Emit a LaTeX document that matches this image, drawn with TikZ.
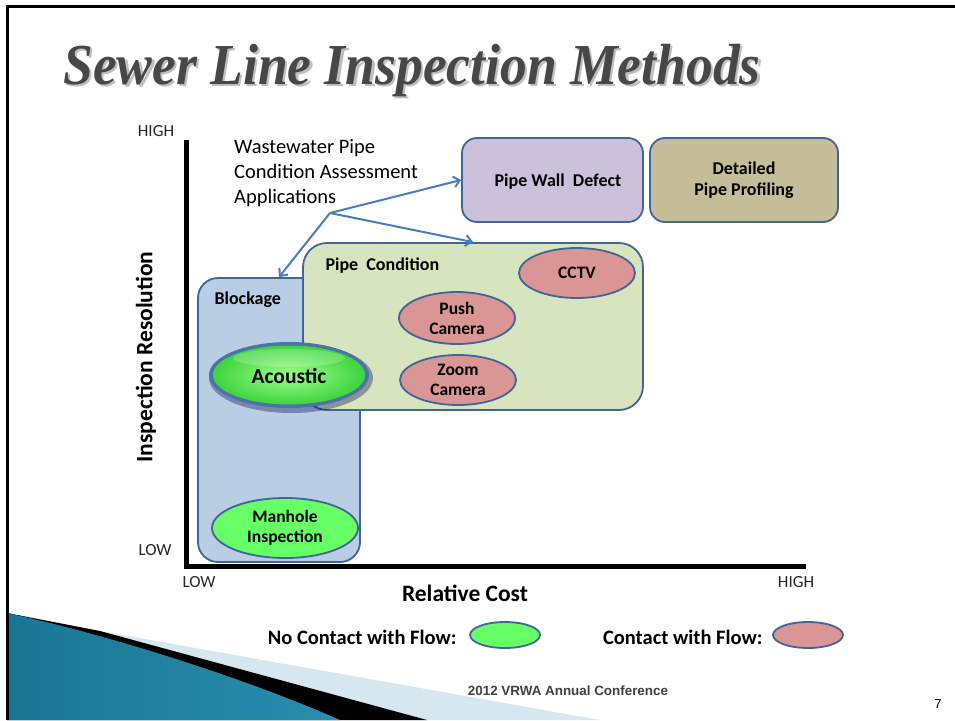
\documentclass[tikz,border=0pt]{standalone}
\usepackage{fontspec}
\setmainfont{Carlito}
\newfontfamily\titlefont{Liberation Serif}
\newfontfamily\footfont{Liberation Sans}
\usetikzlibrary{shapes.geometric,arrows.meta,shadings}
\definecolor{edgeblue}{HTML}{41649A}
\definecolor{arrowblue}{HTML}{4A7EBB}
\definecolor{blockfill}{HTML}{B9CDE5}
\definecolor{condfill}{HTML}{D7E4BD}
\definecolor{wallfill}{HTML}{CCC1DA}
\definecolor{detailfill}{HTML}{C4BD97}
\definecolor{pinkfill}{HTML}{D99694}
\definecolor{greenfill}{HTML}{66FF66}
\definecolor{greenlight}{HTML}{9CFF8C}
\definecolor{greenedge}{HTML}{3ED43E}
\definecolor{acousticrim}{HTML}{4A74A8}
\definecolor{tealA}{HTML}{1A7593}
\definecolor{tealB}{HTML}{55B6D6}
\definecolor{tealC}{HTML}{2A8EAF}
\definecolor{paleblue}{HTML}{D5E8F0}
\tikzset{
  area/.style={draw=edgeblue, line width=1.8pt, inner sep=0pt},
  oval/.style={ellipse, draw=edgeblue, line width=1.8pt, inner sep=0pt, align=center,
    font=\fontsize{17.5}{20}\selectfont\bfseries},
  boxtext/.style={font=\fontsize{18}{21}\selectfont\bfseries, align=center},
  ticktext/.style={font=\fontsize{17}{19}\selectfont, text=black!85},
  axistitle/.style={font=\fontsize{23.5}{26}\selectfont\bfseries},
  legendtext/.style={font=\fontsize{20.5}{23}\selectfont\bfseries},
  link/.style={draw=arrowblue, line width=2pt, -{Straight Barb[length=6pt,width=11pt]}},
}
\begin{document}
\begin{tikzpicture}[x=1pt,y=-1pt]
\useasboundingbox (0,0) rectangle (955,720);
\fill[white] (0,0) rectangle (955,720);
% bottom-left decoration
\fill[paleblue] (7,613) -- (100,631) -- (600,720) -- (7,720) -- cycle;
\fill[black] (7,613) -- (100,631) -- (427,720) -- (7,720) -- cycle;
\shade[left color=tealA, middle color=tealB, right color=tealC] (7,613) .. controls (110,635) and (250,680) .. (340,720) -- (7,720) -- cycle;
% slide frame
\draw[line width=3pt] (7,720) -- (7,6) -- (955,6);
% title (with its shadow)
\node[font=\titlefont\fontsize{58}{60}\selectfont\bfseries\itshape, xscale=0.923, anchor=base, inner sep=0pt] (title) at (412,84)
  {\rlap{\kern2.5pt\raisebox{-2.5pt}{\color{black!25}Sewer Line Inspection Methods}}\color{black!72}Sewer Line Inspection Methods};
% axes
\coordinate (origin) at (186,566);
\coordinate (ytop) at (186,140);
\coordinate (xend) at (806,566);
% areas
\node[area, rounded corners=20pt, fill=blockfill, minimum width=162pt, minimum height=284pt] (blockage) at (279,420) {};
\node[area, rounded corners=24pt, fill=condfill, minimum width=340pt, minimum height=167pt] (cond) at (473,326.5) {};
\node[area, rounded corners=15pt, fill=wallfill, minimum width=181pt, minimum height=84pt] (wall) at (552.5,180) {};
\node[area, rounded corners=15pt, fill=detailfill, minimum width=188pt, minimum height=84pt, boxtext] (detail) at (744,180) {Detailed\\Pipe Profiling};
\node[boxtext] (walltext) at (558,182) {Pipe Wall~~Defect};
\node[boxtext, anchor=west] (blocktext) at (211,300) {Blockage};
\node[boxtext, anchor=west] (condtext) at (322,266) {Pipe~~Condition};
\draw[line width=5pt] (ytop) -- (186,568.5);
\draw[line width=5pt] (183.5,566) -- (xend);
% ovals
\node[oval, fill=pinkfill, minimum width=116pt, minimum height=50pt] (cctv) at (577,273) {CCTV};
\node[oval, fill=pinkfill, minimum width=116pt, minimum height=52pt] (push) at (457,318) {Push\\Camera};
\node[oval, fill=pinkfill, minimum width=116pt, minimum height=50pt] (zoom) at (458,380) {Zoom\\Camera};
\node[oval, fill=greenfill, minimum width=146pt, minimum height=60pt] (manhole) at (285,528) {Manhole\\Inspection};
% acoustic with glow
\fill[black!70!blue, opacity=0.35] (291,378) ellipse [x radius=82pt, y radius=35pt];
\fill[acousticrim] (289,375) ellipse [x radius=80pt, y radius=33pt];
\shade[inner color=greenlight, outer color=greenedge] (289,375) ellipse [x radius=76pt, y radius=29.5pt];
\fill[white, opacity=0.2] (289,358) ellipse [x radius=56pt, y radius=9pt];
\node[font=\fontsize{21.5}{24}\selectfont\bfseries, inner sep=0pt] (acoustic) at (289,376) {Acoustic};
% applications label and arrows
\node[anchor=north west, align=left, font=\fontsize{20.5}{25}\selectfont, inner sep=0pt] (apps) at (234,139) {Wastewater Pipe\\Condition Assessment\\Applications};
\coordinate (hub) at (330,213);
\draw[link] (hub) -- (wall.west);
\draw[link] (hub) -- (cond.north);
\draw[link] (hub) -- (blockage.north);
% axis labels
\node[ticktext] (yhigh) at (156,131) {HIGH};
\node[ticktext] (ylow) at (155,550) {LOW};
\node[ticktext] (xlow) at (199,582) {LOW};
\node[ticktext] (xhigh) at (796,582) {HIGH};
\node[axistitle] (xlabel) at (465,593) {Relative Cost};
\node[axistitle, rotate=90] (ylabel) at (146,357) {Inspection Resolution};
% legend
\node[legendtext, anchor=east] (nocontact) at (460,637) {No Contact with Flow:};
\node[oval, fill=greenfill, minimum width=70pt, minimum height=26pt] (greenkey) at (505,635) {};
\node[legendtext, anchor=east] (contact) at (766,637) {Contact with Flow:};
\node[oval, fill=pinkfill, minimum width=70pt, minimum height=26pt] (pinkkey) at (808,635) {};
% footer
\node[font=\footfont\fontsize{13.4}{15}\selectfont\bfseries, text=black!75] (footer) at (568,691) {2012 VRWA Annual Conference};
\node[font=\footfont\fontsize{13}{15}\selectfont] (pagenum) at (938,704) {7};
\end{tikzpicture}
\end{document}
